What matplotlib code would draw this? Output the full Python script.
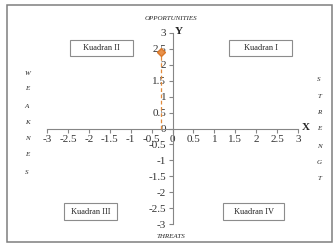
import matplotlib
matplotlib.use('Agg')
import matplotlib.pyplot as plt
from matplotlib.patches import Rectangle

plt.rcParams['font.family'] = ['Liberation Serif', 'DejaVu Serif']
plt.rcParams['axes.unicode_minus'] = False

# posisi strategi (x = S-W, y = O-T)
titik_x = [-0.28]
titik_y = [2.41]

ticks = [-3, -2.5, -2, -1.5, -1, -0.5, 0, 0.5, 1, 1.5, 2, 2.5, 3]
tick_labels = ['-3', '-2.5', '-2', '-1.5', '-1', '-0.5', '0', '0.5', '1', '1.5', '2', '2.5', '3']

kuadran = ['Kuadran I', 'Kuadran II', 'Kuadran III', 'Kuadran IV']
kiri = ['W', 'E', 'A', 'K', 'N', 'E', 'S']
kanan = ['S', 'T', 'R', 'E', 'N', 'G', 'T']

W, H = 336, 248
fig = plt.figure(figsize=(W / 100, H / 100), dpi=100)

def px(x, y):
    return x / W, 1 - y / H

# bingkai luar
fig.patches.append(Rectangle(px(7, 242), (332 - 7) / W, (242 - 5) / H,
                             transform=fig.transFigure, fill=False,
                             edgecolor='#7f7f7f', linewidth=1.1))

ax = fig.add_axes([47 / W, 1 - 224 / H, (298 - 47) / W, (224 - 33) / H])
ax.set_xlim(-3, 3)
ax.set_ylim(-3, 3)
ax.patch.set_alpha(0)

for s in ['top', 'right']:
    ax.spines[s].set_visible(False)
for s in ['left', 'bottom']:
    ax.spines[s].set_position(('data', 0))
    ax.spines[s].set_color('#868686')
    ax.spines[s].set_linewidth(0.8)

ax.set_xticks(ticks)
ax.set_xticklabels(tick_labels)
ax.set_yticks(ticks)
ax.set_yticklabels(tick_labels)
ax.tick_params(axis='both', direction='out', length=3, width=0.8, color='#868686',
               labelsize=8, labelcolor='#333333', pad=1.5)

# garis bantu dari titik ke sumbu x
ax.plot([titik_x[0], titik_x[0]], [0, titik_y[0]], linestyle=(0, (3, 2)),
        color='#e08a3c', linewidth=0.9, zorder=3)
ax.plot(titik_x, titik_y, marker='D', markersize=3.8, color='#e8914a',
        markeredgecolor='#d9782a', linestyle='none', zorder=4)

# kotak kuadran (kiri, atas, kanan, bawah dalam piksel)
kotak = [(229, 40, 292, 56), (70, 40, 133, 56), (64, 203, 117, 220), (223, 203, 284, 220)]
for nama, (x0, y0, x1, y1) in zip(kuadran, kotak):
    fig.patches.append(Rectangle(px(x0, y1), (x1 - x0) / W, (y1 - y0) / H,
                                 transform=fig.transFigure, facecolor='white',
                                 edgecolor='#8c8c8c', linewidth=0.8))
    fig.text(*px((x0 + x1) / 2, (y0 + y1) / 2), nama, ha='center', va='center',
             fontsize=6, color='#262626')

fig.text(*px(171, 18), 'OPPORTUNITIES', ha='center', va='center', fontsize=5,
         style='italic', color='#262626')
fig.text(*px(171, 236), 'THREATS', ha='center', va='center', fontsize=5,
         style='italic', color='#262626')
fig.text(*px(179, 32), 'Y', ha='center', va='center', fontsize=8, weight='bold',
         color='#262626')
fig.text(*px(306, 127), 'X', ha='center', va='center', fontsize=8, weight='bold',
         color='#262626')

y_kiri = [73, 89, 106, 122, 139, 155, 172]
for huruf, y in zip(kiri, y_kiri):
    fig.text(*px(27, y), huruf, ha='center', va='center', fontsize=5,
             style='italic', color='#262626')

y_kanan = [80, 96, 113, 129, 146, 162, 178]
for huruf, y in zip(kanan, y_kanan):
    fig.text(*px(319, y), huruf, ha='center', va='center', fontsize=5,
             style='italic', color='#262626')

fig.savefig('out.png', dpi=100)
